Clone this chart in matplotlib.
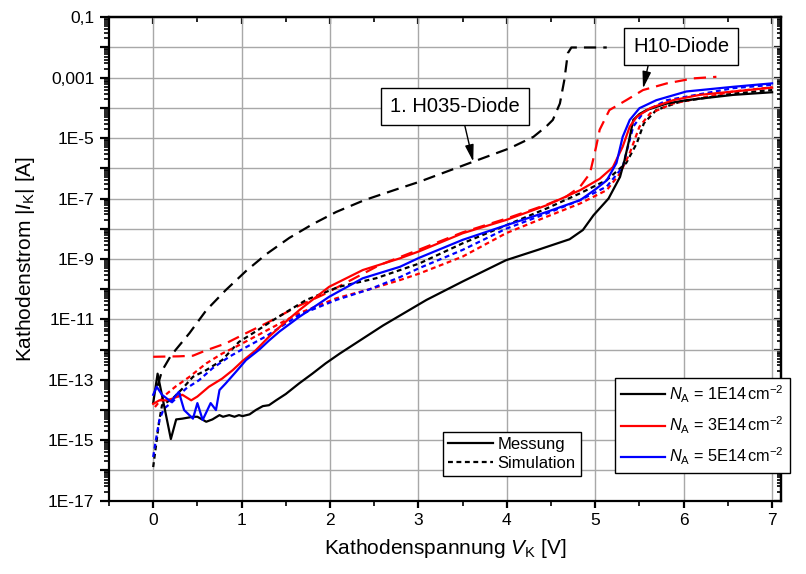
import numpy as np
import matplotlib.pyplot as plt
from matplotlib.ticker import FixedLocator, FuncFormatter, LogLocator, MultipleLocator, NullFormatter
from matplotlib.lines import Line2D

plt.rcParams['font.family'] = ['Liberation Sans', 'DejaVu Sans']
plt.rcParams['mathtext.fontset'] = 'custom'
plt.rcParams['mathtext.rm'] = 'Liberation Sans'
plt.rcParams['mathtext.it'] = 'Liberation Sans:italic'

# Messung N_A = 1E14
meas1_v = [0.0, 0.05, 0.2, 0.26, 0.33, 0.45, 0.5, 0.6, 0.67, 0.75, 0.79, 0.86, 0.92, 0.97, 1.01,
           1.09, 1.16, 1.24, 1.31, 1.39, 1.5, 1.65, 1.8, 1.95, 2.11, 2.6, 3.09, 3.5, 3.99, 4.35,
           4.71, 4.86, 4.98, 5.15, 5.28, 5.33, 5.38, 5.43, 5.5, 5.58, 5.81, 6.03, 6.56, 7.0]
meas1_i = [1.7e-14, 1.6e-13, 1.1e-15, 4.9e-15, 5.2e-15, 6.0e-15, 6.0e-15, 4.1e-15, 4.9e-15, 6.8e-15,
           6.0e-15, 6.8e-15, 6.0e-15, 6.8e-15, 6.3e-15, 7.2e-15, 1.0e-14, 1.35e-14, 1.45e-14, 2.1e-14,
           3.4e-14, 7.6e-14, 1.6e-13, 3.5e-13, 7.4e-13, 6.3e-12, 4.4e-11, 1.8e-10, 9.1e-10, 2.0e-9,
           4.5e-9, 9.1e-9, 2.8e-8, 1.0e-7, 5.2e-7, 1.8e-6, 7.9e-6, 4.0e-5, 6.3e-5, 8.5e-5, 1.4e-4,
           1.8e-4, 2.7e-4, 3.3e-4]

# Messung N_A = 3E14
meas3_v = [0.0, 0.07, 0.15, 0.22, 0.33, 0.43, 0.5, 0.63, 0.78, 0.9, 1.01, 1.16, 1.3, 1.45, 1.65,
           1.99, 2.37, 2.79, 3.01, 3.5, 3.99, 4.45, 4.83, 5.05, 5.2, 5.31, 5.39, 5.47, 5.62, 5.88,
           6.18, 7.0]
meas3_i = [1.6e-14, 2.1e-14, 2.1e-14, 2.4e-14, 3.2e-14, 2.1e-14, 2.8e-14, 5.9e-14, 1.1e-13, 2.1e-13,
           4.2e-13, 9.5e-13, 2.5e-12, 6.3e-12, 2.0e-11, 1.2e-10, 4.3e-10, 1.05e-9, 1.8e-9, 7.1e-9,
           1.95e-8, 6.0e-8, 1.9e-7, 4.5e-7, 1.1e-6, 5.2e-6, 2.4e-5, 5.1e-5, 9.8e-5, 1.8e-4, 2.7e-4,
           4.7e-4]

# Messung N_A = 5E14
meas5_v = [0.0, 0.04, 0.1, 0.2, 0.29, 0.35, 0.45, 0.5, 0.56, 0.65, 0.71, 0.75, 0.82, 0.94, 1.05,
           1.2, 1.31, 1.43, 1.65, 1.99, 2.37, 2.79, 3.01, 3.5, 3.99, 4.45, 4.83, 5.0, 5.13, 5.24,
           5.31, 5.39, 5.5, 5.69, 6.03, 6.56, 7.0]
meas5_i = [3.2e-14, 5.9e-14, 3.2e-14, 1.9e-14, 4.0e-14, 1.0e-14, 5.2e-15, 1.7e-14, 4.7e-15, 1.7e-14,
           1.0e-14, 4.6e-14, 7.6e-14, 1.9e-13, 4.5e-13, 1.0e-12, 2.0e-12, 4.0e-12, 1.2e-11, 5.6e-11,
           2.3e-10, 5.5e-10, 1.1e-9, 4.3e-9, 1.3e-8, 3.6e-8, 8.9e-8, 2.0e-7, 4.0e-7, 1.5e-6, 1.1e-5,
           4.0e-5, 9.8e-5, 1.8e-4, 3.5e-4, 5.0e-4, 6.5e-4]

# Simulation N_A = 1E14
sim1_v = [0.0, 0.03, 0.07, 0.1, 0.22, 0.33, 0.45, 0.6, 0.78, 0.97, 1.16, 1.37, 1.73, 2.1, 2.52,
          3.01, 3.5, 3.99, 4.45, 4.83, 5.13, 5.35, 5.47, 5.55, 5.69, 5.96, 6.56, 7.0]
sim1_i = [1.3e-16, 6.0e-16, 4.7e-15, 1.45e-14, 2.4e-14, 5.1e-14, 1.26e-13, 2.1e-13, 4.5e-13, 1.8e-12,
          4.0e-12, 1.0e-11, 4.4e-11, 1.2e-10, 2.3e-10, 7.1e-10, 3.3e-9, 1.3e-8, 4.7e-8, 1.5e-7,
          4.1e-7, 1.5e-6, 6.8e-6, 3.1e-5, 8.5e-5, 1.6e-4, 3.0e-4, 3.9e-4]

# Simulation N_A = 3E14
sim3_v = [0.02, 0.07, 0.14, 0.25, 0.41, 0.6, 0.78, 0.97, 1.2, 1.65, 2.07, 2.45, 2.79, 3.01, 3.5,
          3.99, 4.45, 4.83, 5.13, 5.28, 5.39, 5.5, 5.62, 5.88, 6.56, 7.0]
sim3_i = [1.26e-14, 1.9e-14, 3.2e-14, 5.9e-14, 1.26e-13, 3.5e-13, 7.4e-13, 1.4e-12, 3.2e-12, 1.6e-11,
          5.0e-11, 1.0e-10, 2.0e-10, 3.3e-10, 1.2e-9, 7.1e-9, 2.5e-8, 6.9e-8, 1.9e-7, 6.8e-7, 3.2e-6,
          2.4e-5, 6.6e-5, 1.4e-4, 3.5e-4, 4.8e-4]

# Simulation N_A = 5E14
sim5_v = [0.0, 0.03, 0.07, 0.12, 0.22, 0.37, 0.52, 0.67, 0.86, 1.05, 1.28, 1.65, 2.07, 2.45, 2.79,
          3.01, 3.5, 3.99, 4.45, 4.83, 5.13, 5.31, 5.35, 5.43, 5.55, 5.81, 6.56, 7.0]
sim5_i = [2.8e-16, 1.0e-15, 4.7e-15, 1.1e-14, 1.9e-14, 5.1e-14, 9.8e-14, 2.4e-13, 5.8e-13, 1.2e-12,
          2.8e-12, 1.4e-11, 4.4e-11, 1.0e-10, 2.5e-10, 5.0e-10, 2.0e-9, 1.0e-8, 3.2e-8, 8.9e-8,
          2.5e-7, 1.1e-6, 3.2e-6, 2.4e-5, 7.4e-5, 1.8e-4, 4.5e-4, 5.8e-4]

# 1. H035-Diode
h035_v = [0.05, 0.1, 0.2, 0.41, 0.6, 0.82, 1.05, 1.28, 1.54, 1.8, 2.07, 2.39, 2.79, 3.0, 3.62,
          4.03, 4.3, 4.45, 4.52, 4.6, 4.65, 4.69, 4.73, 5.13]
h035_i = [6.3e-14, 2.0e-13, 6.3e-13, 3.5e-12, 2.0e-11, 9.3e-11, 4.0e-10, 1.45e-9, 5.0e-9, 1.4e-8,
          3.6e-8, 8.9e-8, 2.2e-7, 3.5e-7, 1.66e-6, 4.6e-6, 1.1e-5, 2.5e-5, 4.0e-5, 1.4e-4, 8.3e-4,
          6.5e-3, 1.0e-2, 1.0e-2]

# H10-Diode
h10_v = [0.0, 0.29, 0.45, 0.6, 0.82, 1.05, 1.31, 1.62, 1.92, 2.56, 3.0, 3.5, 4.0, 4.45, 4.67,
         4.83, 4.94, 5.01, 5.05, 5.16, 5.35, 5.54, 5.81, 6.11, 6.37]
h10_i = [5.8e-13, 6.0e-13, 6.3e-13, 9.5e-13, 1.6e-12, 3.5e-12, 8.3e-12, 2.6e-11, 6.5e-11, 6.3e-10,
         2.0e-9, 7.6e-9, 2.2e-8, 6.3e-8, 1.15e-7, 2.5e-7, 6.8e-7, 5.2e-6, 1.9e-5, 8.5e-5, 1.8e-4,
         3.9e-4, 6.5e-4, 9.5e-4, 1.07e-3]

y_labels = {-1: '0,1', -3: '0,001', -5: '1E-5', -7: '1E-7', -9: '1E-9', -11: '1E-11',
            -13: '1E-13', -15: '1E-15', -17: '1E-17'}

fig = plt.figure(figsize=(8.06, 5.74), dpi=100)
ax = fig.add_axes([0.1352, 0.1277, 0.8337, 0.8422])
ax.set_yscale('log')
ax.set_xlim(-0.5, 7.1)
ax.set_ylim(1e-17, 1e-1)

ax.grid(True, which='major', color='#a8a8a8', lw=1.0)
ax.set_axisbelow(True)

lw = 1.6
short = (0, (2.2, 1.6))
long_ = (0, (5.5, 3.2))
ax.plot(h035_v, h035_i, color='black', lw=lw, ls=long_)
ax.plot(h10_v, h10_i, color='#ff0000', lw=lw, ls=long_)
ax.plot(sim1_v, sim1_i, color='black', lw=lw, ls=short)
ax.plot(sim3_v, sim3_i, color='#ff0000', lw=lw, ls=short)
ax.plot(sim5_v, sim5_i, color='#0000ff', lw=lw, ls=short)
ax.plot(meas1_v, meas1_i, color='black', lw=lw)
ax.plot(meas3_v, meas3_i, color='#ff0000', lw=lw)
ax.plot(meas5_v, meas5_i, color='#0000ff', lw=lw)

# ticks
ax.xaxis.set_major_locator(MultipleLocator(1))
ax.xaxis.set_minor_locator(MultipleLocator(0.5))
ax.xaxis.set_major_formatter(FuncFormatter(lambda v, p: '%d' % v if v >= 0 else ''))
ax.yaxis.set_major_locator(FixedLocator([10.0 ** k for k in range(-17, 0)]))
ax.yaxis.set_minor_locator(LogLocator(base=10, subs=np.arange(2, 10), numticks=40))
ax.yaxis.set_major_formatter(FuncFormatter(lambda v, p: y_labels.get(int(round(np.log10(v))), '')))
ax.yaxis.set_minor_formatter(NullFormatter())
ax.tick_params(axis='both', which='major', labelsize=12.5, width=1.6, direction='out', pad=4)
ax.tick_params(axis='x', which='major', length=5)
ax.tick_params(axis='y', which='major', length=6.5)
ax.tick_params(axis='both', which='minor', width=1.2, length=3.5, direction='out')
for s in ax.spines.values():
    s.set_linewidth(1.6)

top = ax.secondary_xaxis('top')
top.xaxis.set_major_locator(MultipleLocator(1))
top.xaxis.set_minor_locator(MultipleLocator(0.5))
top.tick_params(which='major', direction='in', length=5, width=1.6, labeltop=False)
top.tick_params(which='minor', direction='in', length=3.5, width=1.2)
right = ax.secondary_yaxis('right')
right.yaxis.set_major_locator(FixedLocator([10.0 ** k for k in range(-17, 0)]))
right.yaxis.set_minor_locator(LogLocator(base=10, subs=np.arange(2, 10), numticks=40))
right.yaxis.set_minor_formatter(NullFormatter())
right.tick_params(which='major', direction='in', length=5, width=1.6, labelright=False)
right.tick_params(which='minor', direction='in', length=3, width=1.2)
for sa in (top, right):
    for s in sa.spines.values():
        s.set_linewidth(1.6)

ax.set_xlabel('Kathodenspannung $V_\\mathrm{K}$ [V]', fontsize=15, labelpad=6)
ax.set_ylabel('Kathodenstrom |$I_\\mathrm{K}$| [A]', fontsize=15, labelpad=8)

# annotations
box = dict(boxstyle='square,pad=0.45', fc='white', ec='black', lw=1.0)
ax.annotate('H10-Diode', xy=(5.54, 4.4e-4), xytext=(5.97, 1.07e-2), fontsize=14.5,
            ha='center', va='center', bbox=box,
            arrowprops=dict(arrowstyle='-|>,head_length=0.7,head_width=0.18', color='black',
                            lw=1.0, shrinkA=0, shrinkB=0, relpos=(0.18, 0.0)))
ax.annotate('1. H035-Diode', xy=(3.62, 1.66e-6), xytext=(3.41, 1.15e-4), fontsize=14.5,
            ha='center', va='center', bbox=box,
            arrowprops=dict(arrowstyle='-|>,head_length=0.7,head_width=0.18', color='black',
                            lw=1.0, shrinkA=0, shrinkB=0, relpos=(0.56, 0.0)))

# legends
style_handles = [Line2D([], [], color='black', lw=lw),
                 Line2D([], [], color='black', lw=lw, ls=short)]
leg1 = ax.legend(style_handles, ['Messung', 'Simulation'], loc='upper left',
                 bbox_to_anchor=(0.4966, 0.1415), borderaxespad=0, fontsize=12,
                 handlelength=2.7, handletextpad=0.3, labelspacing=0.2, borderpad=0.3,
                 fancybox=False, edgecolor='black', framealpha=1)
leg1.get_frame().set_linewidth(1.0)
ax.add_artist(leg1)

na_handles = [Line2D([], [], color='black', lw=lw),
              Line2D([], [], color='#ff0000', lw=lw),
              Line2D([], [], color='#0000ff', lw=lw)]
na_labels = ['$N_\\mathrm{A}$ = 1E14$\\,$cm$^{-2}$',
             '$N_\\mathrm{A}$ = 3E14$\\,$cm$^{-2}$',
             '$N_\\mathrm{A}$ = 5E14$\\,$cm$^{-2}$']
leg2 = ax.legend(na_handles, na_labels, loc='upper left', bbox_to_anchor=(0.753, 0.2544),
                 borderaxespad=0, fontsize=11.7, handlelength=2.7, handletextpad=0.3,
                 labelspacing=0.6, borderpad=0.35, fancybox=False, edgecolor='black',
                 framealpha=1)
leg2.get_frame().set_linewidth(1.0)

fig.savefig('out.png', dpi=100)
